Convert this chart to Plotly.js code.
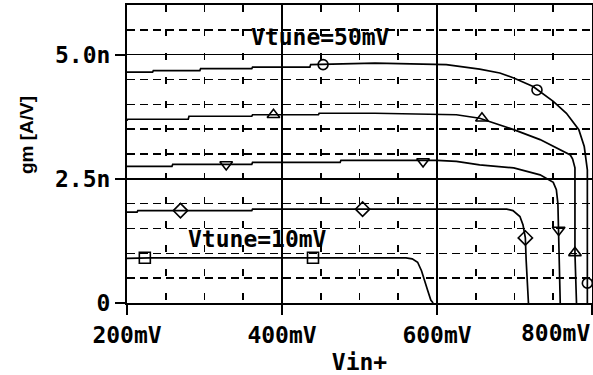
<!DOCTYPE html>
<html><head><meta charset="utf-8">
<script src="https://cdn.plot.ly/plotly-3.0.1.min.js"></script>
<style>html,body{margin:0;padding:0;background:#fff}#chart{width:593px;height:375px}</style>
</head><body><div id="chart"></div>
<script>
// Vin+ in mV, gm in nA/V (n)
const vin10 = [200, 230, 300, 400, 500, 540, 560, 568, 575, 580, 584, 588, 592, 595];
const gm10  = [0.90, 0.91, 0.91, 0.91, 0.91, 0.91, 0.91, 0.89, 0.82, 0.65, 0.47, 0.25, 0.06, 0];

const vin20 = [200, 213, 214, 361, 362, 690, 698, 707, 711, 714, 715, 718];
const gm20  = [1.83, 1.83, 1.86, 1.86, 1.89, 1.89, 1.86, 1.74, 1.57, 1.31, 0.87, 0];

const vin30 = [200, 258, 259, 361, 362, 475, 476, 600, 625, 655, 699, 733, 750, 754, 756, 757, 758, 759];
const gm30  = [2.75, 2.75, 2.79, 2.79, 2.83, 2.83, 2.87, 2.87, 2.85, 2.78, 2.72, 2.58, 2.43, 2.28, 2.00, 1.47, 0.50, 0];

const vin40 = [200, 201, 279, 280, 361, 362, 447, 448, 520, 625, 655, 699, 733, 759, 772, 775, 778, 778, 780];
const gm40  = [3.67, 3.70, 3.70, 3.76, 3.76, 3.79, 3.79, 3.82, 3.82, 3.79, 3.72, 3.49, 3.29, 3.08, 2.98, 2.90, 2.72, 1.00, 0];

const vin50 = [200, 233, 234, 294, 295, 361, 362, 436, 437, 520, 612, 655, 681, 699, 724, 750, 767, 783, 790, 794, 794, 794];
const gm50  = [4.65, 4.65, 4.68, 4.68, 4.72, 4.72, 4.75, 4.75, 4.80, 4.83, 4.80, 4.71, 4.63, 4.53, 4.36, 4.06, 3.82, 3.49, 3.15, 2.68, 1.20, 0];

// marker positions
const mk10x = [223, 440], mk10y = [0.91, 0.91];
const mk20x = [269, 504, 714], mk20y = [1.86, 1.89, 1.31];
const mk30x = [328, 582, 757], mk30y = [2.79, 2.85, 1.47];
const mk40x = [389, 658, 778], mk40y = [3.79, 3.72, 1.01];
const mk50x = [453, 729, 794], mk50y = [4.80, 4.29, 0.40];

// ticks
const xTickVals = [200, 400, 600, 800];
const xTickText = ['200mV', '400mV', '600mV', '800mV'];
const yTickVals = [0, 2.5, 5];
const yTickText = ['0', '2.5n', '5.0n'];

// labels
const xTitle = 'Vin+';
const yTitle = 'gm [A/V]';
const labelText = ['Vtune=50mV', 'Vtune=10mV'];
const labelX = [450, 368];
const labelY = [5.36, 1.29];

const pix = {family: 'DejaVu Sans Mono', size: 23, color: '#000', weight: 'bold'};

const lineStyle = {color: '#000', width: 1.7};
const curves = [[vin10, gm10], [vin20, gm20], [vin30, gm30], [vin40, gm40], [vin50, gm50]];
const markers = [
  [mk10x, mk10y, 'square-open', 11],
  [mk20x, mk20y, 'diamond-open', 11],
  [mk30x, mk30y, 'triangle-down-open', 11],
  [mk40x, mk40y, 'triangle-up-open', 11],
  [mk50x, mk50y, 'circle-open', 10]
];

const data = [];
curves.forEach(c => data.push({x: c[0], y: c[1], mode: 'lines', line: lineStyle, hoverinfo: 'skip', showlegend: false}));
markers.forEach(m => data.push({x: m[0], y: m[1], mode: 'markers', hoverinfo: 'skip', showlegend: false,
  marker: {symbol: m[2], size: m[3], color: '#000', line: {color: '#000', width: 1.6}}}));

const annotations = labelText.map((t, i) => ({x: labelX[i], y: labelY[i], xref: 'x', yref: 'y', text: t, showarrow: false, font: pix, xanchor: 'center', yanchor: 'middle'}));
// y axis title
annotations.push({x: 0, y: 0.5638, xref: 'paper', yref: 'paper', xshift: -100, text: yTitle, textangle: -90, showarrow: false,
  xanchor: 'center', yanchor: 'middle', font: {family: 'Liberation Sans', size: 19, color: '#000', weight: 'bold'}});
// last x tick label kept inside the picture (right-aligned at its tick)
const lastI = xTickVals.length - 1;
annotations.push({x: xTickVals[lastI], y: 0, xref: 'x', yref: 'paper', yshift: -30, text: xTickText[lastI], showarrow: false,
  xanchor: 'right', yanchor: 'middle', font: pix});
const shownTickText = xTickText.map((t, i) => i === lastI ? '' : t);

const layout = {
  width: 593, height: 375,
  margin: {l: 127, r: 1, t: 5, b: 72},
  paper_bgcolor: '#fff', plot_bgcolor: '#fff',
  showlegend: false,
  xaxis: {
    range: [200, 800], tickmode: 'array', tickvals: xTickVals, ticktext: shownTickText,
    showgrid: true, gridcolor: '#000', gridwidth: 1.6, zeroline: false,
    showline: true, mirror: true, linecolor: '#000', linewidth: 2,
    ticks: 'outside', ticklen: 10, tickwidth: 2, tickcolor: '#000',
    tickfont: pix,
    minor: {tickmode: 'linear', tick0: 200, dtick: 50, showgrid: true, gridcolor: '#000', gridwidth: 1.6, griddash: '7px,17px', ticks: ''},
    title: {text: xTitle, font: pix, standoff: 8}
  },
  yaxis: {
    range: [0, 6], tickmode: 'array', tickvals: yTickVals, ticktext: yTickText,
    showgrid: true, gridcolor: '#000', gridwidth: 1.6, zeroline: false,
    showline: true, mirror: true, linecolor: '#000', linewidth: 2,
    ticks: 'outside', ticklen: 10, tickwidth: 2, tickcolor: '#000',
    tickfont: pix,
    minor: {tickmode: 'linear', tick0: 0, dtick: 0.5, showgrid: true, gridcolor: '#000', gridwidth: 1.6, griddash: '8px,5px', ticks: ''}
  },
  annotations: annotations
};

Plotly.newPlot('chart', data, layout, {staticPlot: true, displayModeBar: false});
</script></body></html>
